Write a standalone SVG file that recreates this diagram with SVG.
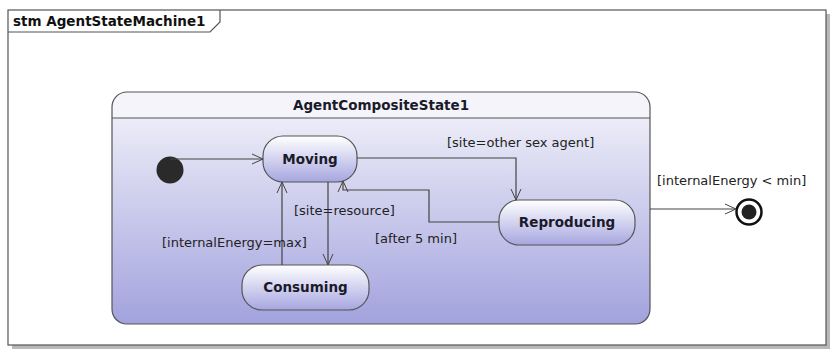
<svg xmlns="http://www.w3.org/2000/svg" width="833" height="350" viewBox="0 0 833 350">
  <defs>
    <linearGradient id="compFill" x1="0" y1="0" x2="0" y2="1">
      <stop offset="0" stop-color="#ececf8"/>
      <stop offset="1" stop-color="#a2a2de"/>
    </linearGradient>
    <linearGradient id="stateFill" x1="0" y1="0" x2="0" y2="1">
      <stop offset="0" stop-color="#ffffff"/>
      <stop offset="1" stop-color="#a6a6e0"/>
    </linearGradient>
    <marker id="open" markerWidth="14" markerHeight="12" refX="12" refY="6" orient="auto" markerUnits="userSpaceOnUse">
      <path d="M1,1 L12,6 L1,11" fill="none" stroke="#444" stroke-width="1"/>
    </marker>
  </defs>
  <style>
    .frame { fill: #ffffff; stroke: #555; stroke-width: 1.2; }
    .shadow { fill: #b8b8b8; }
    .title { font-family: "DejaVu Sans", Verdana, sans-serif; font-weight: bold; font-size: 13.5px; fill: #111; }
    .state { fill: url(#stateFill); stroke: #555; stroke-width: 1.2; }
    .sname { font-family: "DejaVu Sans", Verdana, sans-serif; font-weight: bold; font-size: 13.5px; fill: #1a1a2a; text-anchor: middle; }
    .guard { font-family: "DejaVu Sans", Verdana, sans-serif; font-size: 13px; fill: #222; }
    .edge { fill: none; stroke: #444; stroke-width: 1.2; marker-end: url(#open); }
  </style>

  <rect width="833" height="350" fill="#ffffff"/>

  <!-- diagram frame with drop shadow -->
  <g id="frame">
    <rect class="shadow" x="12" y="14" width="818" height="335"/>
    <rect class="frame" x="8" y="10" width="818" height="335"/>
    <path d="M8,32 H210 L220,22 V10" fill="none" stroke="#555" stroke-width="1.2"/>
    <text class="title" x="13" y="26">stm AgentStateMachine1</text>
  </g>

  <!-- composite state -->
  <g id="AgentCompositeState1">
    <path d="M112,118 V106 Q112,92 127,92 H635 Q650,92 650,106 V118 Z" fill="#f4f4fa"/>
    <path d="M112,118 H650 V309 Q650,324 635,324 H127 Q112,324 112,309 Z" fill="url(#compFill)"/>
    <rect x="112" y="92" width="538" height="232" rx="15" ry="15" fill="none" stroke="#555" stroke-width="1.2"/>
    <line x1="112" y1="118" x2="650" y2="118" stroke="#555" stroke-width="1.2"/>
    <text class="sname" x="381" y="110">AgentCompositeState1</text>
  </g>

  <g id="initial">
    <circle cx="170" cy="170" r="13.5" fill="#2a2a2a"/>
  </g>

  <g id="Moving">
    <rect class="state" x="263" y="136" width="94" height="46" rx="20" ry="20"/>
    <text class="sname" x="310" y="164">Moving</text>
  </g>

  <g id="Consuming">
    <rect class="state" x="242" y="265" width="127" height="45" rx="20" ry="20"/>
    <text class="sname" x="305.5" y="292">Consuming</text>
  </g>

  <g id="Reproducing">
    <rect class="state" x="499" y="200" width="136" height="45" rx="20" ry="20"/>
    <text class="sname" x="567" y="227">Reproducing</text>
  </g>

  <g id="final">
    <circle cx="749" cy="212" r="12.5" fill="#ffffff" stroke="#111" stroke-width="2.5"/>
    <circle cx="749" cy="212" r="7.5" fill="#222"/>
  </g>

  <!-- transitions -->
  <g id="connectors">
    <path class="edge" d="M170,159 H263"/>
    <path class="edge" d="M357,158 H516 V200"/>
    <path class="edge" d="M499,222 H429 V190 H343 V181"/>
    <path class="edge" d="M328,182 V265"/>
    <path class="edge" d="M282,265 V182"/>
    <path class="edge" d="M650,209 H736"/>
  </g>

  <!-- guard labels -->
  <g id="labels">
    <text class="guard" x="447" y="147">[site=other sex agent]</text>
    <text class="guard" x="294" y="215">[site=resource]</text>
    <text class="guard" x="162" y="247">[internalEnergy=max]</text>
    <text class="guard" x="375" y="243">[after 5 min]</text>
    <text class="guard" x="657" y="185">[internalEnergy &lt; min]</text>
  </g>
</svg>
